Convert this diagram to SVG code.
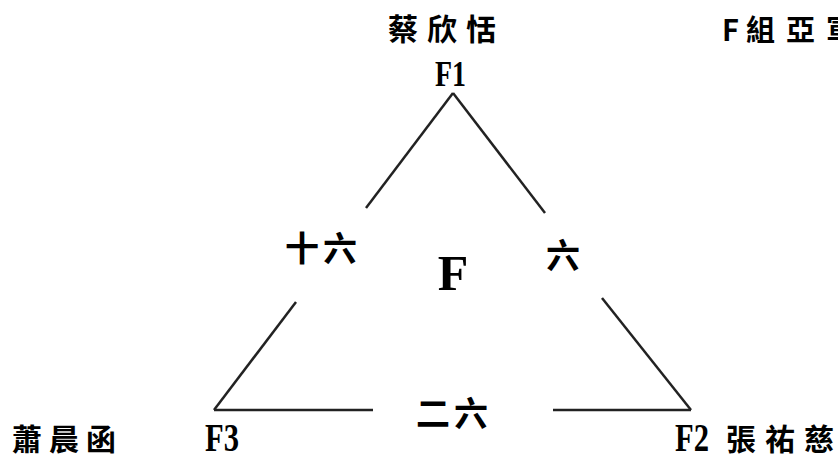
<svg xmlns="http://www.w3.org/2000/svg" width="838" height="459" viewBox="0 0 838 459">
<style>
.ln{stroke:#222;stroke-width:2.5;fill:none;stroke-linecap:butt}
.t{font-family:"Liberation Serif","Noto Sans CJK TC",serif;font-weight:bold;fill:#000}
.cjk{font-family:"Noto Sans CJK TC","Liberation Serif",serif;font-weight:bold;fill:#000}
</style>
<rect width="838" height="459" fill="#fff"/>
<g id="connectors">
<line class="ln" x1="453" y1="93" x2="366" y2="208"/>
<line class="ln" x1="296" y1="302" x2="214" y2="410"/>
<line class="ln" x1="453" y1="93" x2="545" y2="213"/>
<line class="ln" x1="602" y1="298" x2="691" y2="410"/>
<line class="ln" x1="214" y1="410" x2="373" y2="410"/>
<line class="ln" x1="553" y1="410" x2="691" y2="410"/>
</g>
<g id="title"><text class="cjk" x="722 746 786 826" y="41" font-size="29">F組亞軍</text></g>
<g id="F1">
<text class="cjk" x="388 427 466" y="40" font-size="30">蔡欣恬</text>
<text class="t" x="435" y="86" font-size="35" textLength="31" lengthAdjust="spacingAndGlyphs">F1</text>
</g>
<g id="F2">
<text class="t" x="675" y="451" font-size="40" textLength="34" lengthAdjust="spacingAndGlyphs">F2</text>
<text class="cjk" x="726 765 804" y="450" font-size="30">張祐慈</text>
</g>
<g id="F3">
<text class="t" x="205" y="451" font-size="40" textLength="34" lengthAdjust="spacingAndGlyphs">F3</text>
<text class="cjk" x="12 49 86" y="450" font-size="30">蕭晨函</text>
</g>
<g id="center"><text class="t" x="453" y="290" font-size="50" text-anchor="middle">F</text></g>
<g id="labels">
<text class="cjk" x="285 323" y="261" font-size="34">十六</text>
<text class="cjk" x="546" y="268" font-size="34">六</text>
<text class="cjk" x="416 454" y="426" font-size="34">二六</text>
</g>
</svg>
